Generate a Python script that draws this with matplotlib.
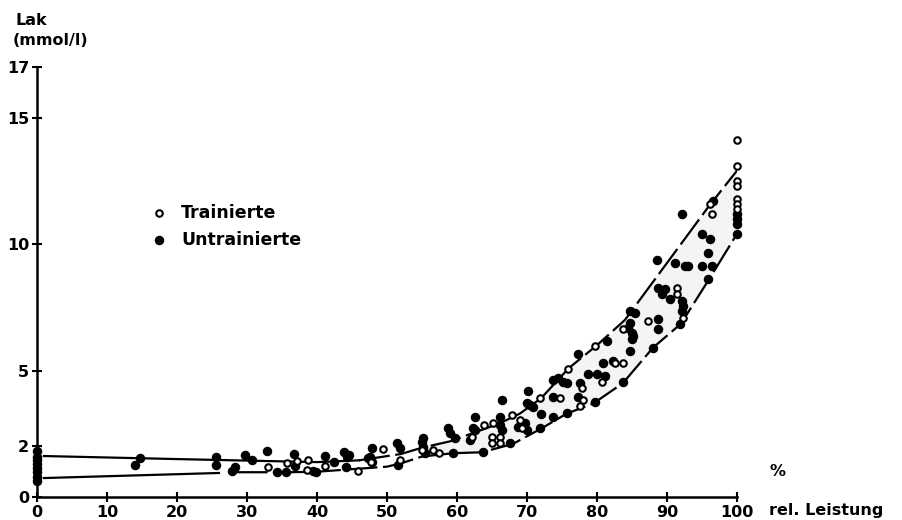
import numpy as np
import matplotlib.pyplot as plt

plt.rcParams['font.family'] = ['DejaVu Sans']

# Lactate (mmol/l) against relative workload (%)
untrained_x = [0, 0, 0, 0, 0, 0, 0, 0,
               14.0, 14.7, 25.6, 25.6, 27.9, 28.3, 29.7, 30.7, 32.9,
               34.3, 35.6, 36.7, 36.9, 39.4, 39.9, 41.1, 42.5,
               43.9, 44.3, 44.1, 44.6, 47.3, 47.9, 47.6, 47.9,
               51.4, 51.9, 51.6, 55.1, 55.0, 55.1, 55.4,
               58.7, 59.0, 59.7, 59.4, 62.6, 62.3, 61.9, 62.6, 63.7,
               66.4, 66.1, 66.1, 66.4, 67.6, 69.7, 68.7, 70.0,
               70.0, 70.1, 70.4, 70.9, 72.0, 73.7, 75.7, 71.9,
               73.7, 74.4, 75.1, 75.7, 73.7, 77.3, 77.6, 77.3, 79.7,
               78.7, 80.0, 81.1, 83.7, 80.9, 82.3, 81.4, 84.4, 84.7,
               84.7, 85.4, 84.7, 85.0, 85.1, 85.0, 88.0, 88.7, 88.7,
               88.7, 89.7, 89.3, 90.4, 92.1, 92.3, 92.1, 91.9,
               88.6, 91.1, 92.6, 93.0, 95.0, 95.9, 96.4, 95.9,
               95.0, 96.1, 92.1, 96.6, 100, 100, 100, 100]
untrained_y = [1.8, 1.6, 1.45, 1.3, 1.15, 1.0, 0.8, 0.65,
               1.26, 1.53, 1.6, 1.26, 1.04, 1.2, 1.65, 1.48, 1.8,
               0.98, 0.98, 1.69, 1.22, 1.04, 1.0, 1.63, 1.38,
               1.77, 1.57, 1.2, 1.65, 1.54, 1.95, 1.57, 1.38,
               2.13, 1.93, 1.26, 2.32, 2.17, 1.97, 1.73,
               2.72, 2.52, 2.32, 1.73, 3.15, 2.72, 2.24, 2.64, 1.77,
               3.82, 3.15, 2.83, 2.64, 2.13, 2.91, 2.76, 2.64,
               3.7, 4.21, 3.62, 3.54, 3.27, 3.15, 3.31, 2.72,
               4.61, 4.69, 4.53, 4.49, 3.94, 5.67, 4.49, 3.94, 3.74,
               4.88, 4.88, 4.80, 4.53, 5.31, 5.39, 6.18, 6.70, 5.79,
               7.36, 7.28, 6.89, 6.50, 6.38, 6.26, 5.91, 7.05, 6.65,
               8.27, 8.23, 8.03, 7.83, 7.76, 7.56, 7.36, 6.85,
               9.37, 9.25, 9.13, 9.13, 9.13, 9.65, 9.13, 8.62,
               10.39, 10.2, 11.18, 11.69, 11.18, 10.98, 10.79, 10.39]

trained_x = [33.0, 35.7, 37.1, 38.7, 38.6, 41.1, 45.9, 47.7, 49.4, 51.9,
             55.0, 56.6, 57.4, 62.1, 63.9, 65.1, 65.0, 66.1, 65.0, 66.1,
             67.9, 69.0, 69.3, 71.9, 74.7, 75.9, 77.9, 78.0, 77.6,
             79.7, 80.7, 82.6, 83.7, 83.7, 87.3, 91.4, 91.4, 92.3,
             96.1, 96.4, 100, 100, 100, 100, 100, 100, 100]
trained_y = [1.2, 1.34, 1.42, 1.48, 1.08, 1.24, 1.02, 1.38, 1.91, 1.46,
             1.85, 1.85, 1.75, 2.36, 2.83, 2.91, 2.36, 2.36, 2.13, 2.13,
             3.23, 3.03, 2.72, 3.90, 3.90, 5.08, 4.29, 3.82, 3.58,
             5.98, 4.53, 5.31, 5.28, 6.65, 6.97, 8.27, 8.03, 7.09,
             11.6, 11.18, 14.1, 13.07, 12.5, 12.3, 11.77, 11.57, 11.38]

# boundary curves of the scatter band
upper_x = [1, 20, 40, 46, 52, 55, 59, 62, 66, 69, 72, 76, 80, 84, 88, 92, 96, 100]
upper_y = [1.62, 1.5, 1.38, 1.45, 1.7, 1.95, 2.2, 2.5, 2.9, 3.3, 3.9, 5.1, 6.0,
           7.0, 8.5, 10.0, 11.5, 12.9]
lower_x = [1, 26, 28.5, 36, 40, 50, 52, 55, 59.4, 63.6, 68, 72, 75.7, 79.5,
           83.7, 88, 92, 96, 100]
lower_y = [0.75, 0.95, 0.98, 0.98, 1.0, 1.2, 1.33, 1.6, 1.73, 1.77, 2.1, 2.7,
           3.3, 3.7, 4.5, 5.9, 6.85, 8.6, 10.4]

x_ticks = list(range(0, 101, 10))
y_ticks = [0, 2, 5, 10, 15, 17]

fig = plt.figure(figsize=(9.02, 5.2), dpi=100)
ax = fig.add_axes([0.041, 0.0442, 0.776, 0.827])

ux, uy = np.array(upper_x), np.array(upper_y)
lx, ly = np.array(lower_x), np.array(lower_y)

# faint shading inside the band
xs = np.linspace(55, 100, 200)
ax.fill_between(xs, np.interp(xs, lx, ly), np.interp(xs, ux, uy),
                color='#f4f4f4', lw=0, zorder=0)

# solid flat part, dashed rising part
ax.plot(ux[ux <= 46], uy[ux <= 46], color='black', lw=1.6, zorder=1)
ax.plot(ux[ux >= 46], uy[ux >= 46], color='black', lw=1.6,
        ls=(0, (14, 2.5)), zorder=1)
ax.plot(lx[lx <= 26], ly[lx <= 26], color='black', lw=1.6, zorder=1)
ax.plot(lx[lx >= 28.5], ly[lx >= 28.5], color='black', lw=1.6,
        ls=(0, (14, 2.5)), zorder=1)

ax.scatter(untrained_x, untrained_y, s=34, color='black', zorder=3,
           clip_on=False, label='Untrainierte')
ax.scatter(trained_x, trained_y, s=22, facecolor='white', edgecolor='black',
           linewidths=1.5, zorder=4, clip_on=False, label='Trainierte')

ax.set_xlim(0, 100)
ax.set_ylim(0, 17)
for side in ['top', 'right']:
    ax.spines[side].set_visible(False)
ax.spines['left'].set_linewidth(1.8)
ax.spines['bottom'].set_linewidth(1.8)
ax.set_xticks(x_ticks)
ax.set_yticks(y_ticks)
ax.tick_params(direction='inout', length=7, width=1.5, labelsize=11.5, pad=2)
for lbl in ax.get_xticklabels() + ax.get_yticklabels():
    lbl.set_fontweight('bold')

handles, labels = ax.get_legend_handles_labels()
ax.legend(handles[::-1], labels[::-1], loc='upper left', frameon=False,
          bbox_to_anchor=(0.144, 0.718), handletextpad=1.0, labelspacing=0.5,
          handlelength=0.6, prop={'size': 12.5, 'weight': 'bold'})

fig.text(0.017, 0.96, 'Lak', fontsize=11.5, fontweight='bold', va='center')
fig.text(0.014, 0.922, '(mmol/l)', fontsize=11.5, fontweight='bold', va='center')
fig.text(0.853, 0.093, '%', fontsize=11.5, fontweight='bold', va='center')
fig.text(0.853, 0.018, 'rel. Leistung', fontsize=11.5, fontweight='bold',
         va='center')

fig.savefig('out.png', dpi=100)
